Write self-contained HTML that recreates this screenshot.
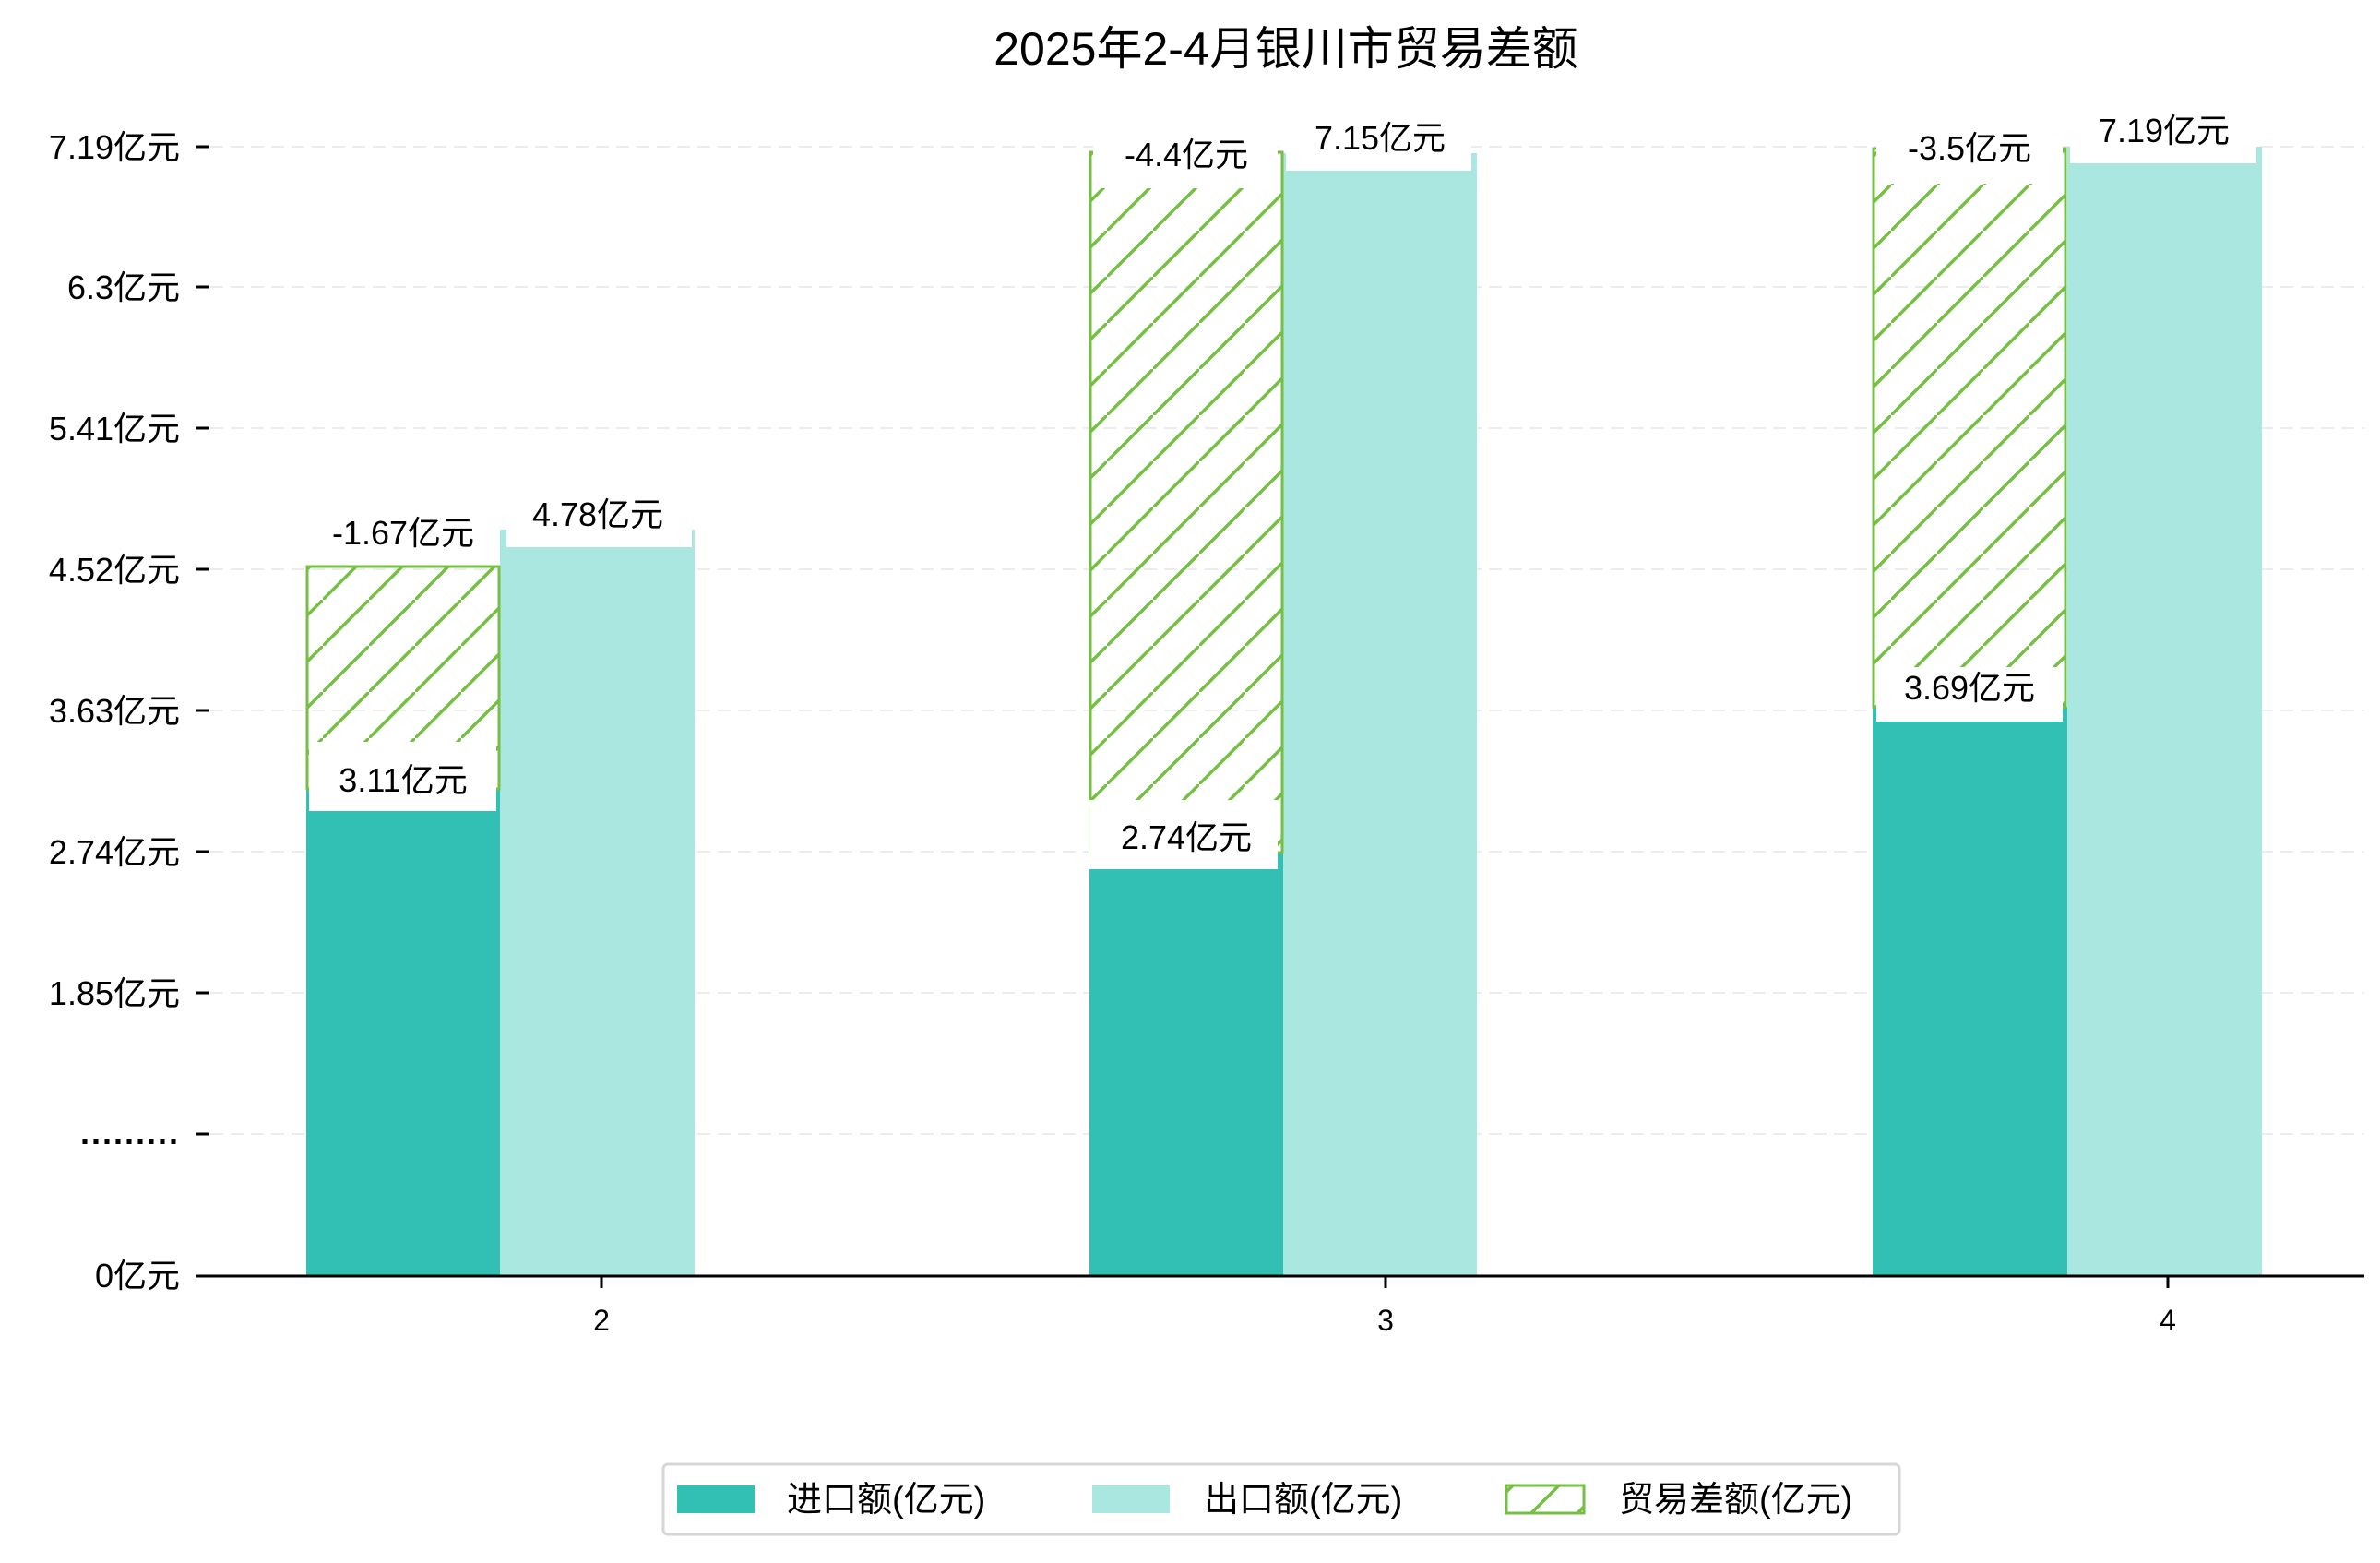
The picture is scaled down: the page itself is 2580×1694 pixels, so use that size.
<!DOCTYPE html>
<html><head><meta charset="utf-8"><style>
html,body{margin:0;padding:0;background:#fff}
svg text{font-family:"Liberation Sans","Noto Sans CJK SC",sans-serif;fill:#000}
</style></head><body>
<svg width="2580" height="1689" viewBox="0 0 2580 1689" xmlns="http://www.w3.org/2000/svg">
<defs>
<pattern id="h" patternUnits="userSpaceOnUse" width="50" height="50">
<line x1="-5" y1="55" x2="55" y2="-5" stroke="#77bf44" stroke-width="3.5"/>
</pattern>
</defs>
<text x="1394" y="70" font-size="50" text-anchor="middle">2025年2-4月银川市贸易差额</text>
<g stroke="#ececec" stroke-width="2" stroke-dasharray="14,8">
<line x1="228" y1="159" x2="2563" y2="159"/>
<line x1="228" y1="311" x2="2563" y2="311"/>
<line x1="228" y1="464" x2="2563" y2="464"/>
<line x1="228" y1="617" x2="2563" y2="617"/>
<line x1="228" y1="770" x2="2563" y2="770"/>
<line x1="228" y1="923" x2="2563" y2="923"/>
<line x1="228" y1="1076" x2="2563" y2="1076"/>
<line x1="228" y1="1229" x2="2563" y2="1229"/>
</g>
<g stroke="#000" stroke-width="3">
<line x1="212" y1="159" x2="227" y2="159"/>
<line x1="212" y1="311" x2="227" y2="311"/>
<line x1="212" y1="464" x2="227" y2="464"/>
<line x1="212" y1="617" x2="227" y2="617"/>
<line x1="212" y1="770" x2="227" y2="770"/>
<line x1="212" y1="923" x2="227" y2="923"/>
<line x1="212" y1="1076" x2="227" y2="1076"/>
<line x1="212" y1="1229" x2="227" y2="1229"/>
</g>
<g font-size="36" text-anchor="end">
<text x="195" y="172">7.19亿元</text>
<text x="195" y="324">6.3亿元</text>
<text x="195" y="477">5.41亿元</text>
<text x="195" y="630">4.52亿元</text>
<text x="195" y="783">3.63亿元</text>
<text x="195" y="936">2.74亿元</text>
<text x="195" y="1089">1.85亿元</text>
<text x="195" y="1240" font-weight="bold" letter-spacing="2">.........</text>
<text x="195" y="1395">0亿元</text>
</g>
<rect x="332" y="855" width="210" height="527" fill="#31c0b3"/>
<rect x="542" y="574" width="211" height="808" fill="#abe7e1"/>
<rect x="1181" y="924" width="210" height="458" fill="#31c0b3"/>
<rect x="1391" y="166" width="210" height="1216" fill="#abe7e1"/>
<rect x="2030" y="766" width="211" height="616" fill="#31c0b3"/>
<rect x="2241" y="159" width="211" height="1223" fill="#abe7e1"/>
<rect x="333" y="614" width="208" height="241" fill="url(#h)" stroke="#77bf44" stroke-width="3"/>
<rect x="1182" y="165" width="208" height="759" fill="url(#h)" stroke="#77bf44" stroke-width="3"/>
<rect x="2031" y="161" width="208" height="605" fill="url(#h)" stroke="#77bf44" stroke-width="3"/>
<g fill="#fff">
<rect x="336" y="556" width="202" height="56"/>
<rect x="335" y="804" width="203" height="75"/>
<rect x="549" y="535" width="201" height="58"/>
<rect x="1185" y="140" width="200" height="64"/>
<rect x="1181" y="867" width="204" height="75"/>
<rect x="1394" y="120" width="201" height="65"/>
<rect x="2034" y="130" width="202" height="69"/>
<rect x="2034" y="723" width="202" height="59"/>
<rect x="2244" y="112" width="202" height="65"/>
</g>
<g font-size="36" text-anchor="middle">
<text x="437" y="590">-1.67亿元</text>
<text x="437" y="858">3.11亿元</text>
<text x="648" y="570">4.78亿元</text>
<text x="1286" y="180">-4.4亿元</text>
<text x="1286" y="920">2.74亿元</text>
<text x="1496" y="162">7.15亿元</text>
<text x="2135" y="173">-3.5亿元</text>
<text x="2135" y="758">3.69亿元</text>
<text x="2346" y="154">7.19亿元</text>
</g>
<line x1="212" y1="1383" x2="2563" y2="1383" stroke="#000" stroke-width="3"/>
<g stroke="#000" stroke-width="3">
<line x1="652" y1="1383" x2="652" y2="1396"/>
<line x1="1502" y1="1383" x2="1502" y2="1396"/>
<line x1="2350" y1="1383" x2="2350" y2="1396"/>
</g>
<g font-size="32" text-anchor="middle">
<text x="652" y="1442">2</text>
<text x="1502" y="1442">3</text>
<text x="2350" y="1442">4</text>
</g>
<rect x="719" y="1587" width="1340" height="76" rx="5" fill="#fff" stroke="#d6d6d6" stroke-width="3"/>
<rect x="734" y="1610" width="84" height="30" fill="#31c0b3"/>
<rect x="1184" y="1610" width="84" height="30" fill="#abe7e1"/>
<rect x="1633" y="1610" width="84" height="30" fill="url(#h)" stroke="#77bf44" stroke-width="3"/>
<g font-size="38">
<text x="853" y="1638">进口额(亿元)</text>
<text x="1305" y="1638">出口额(亿元)</text>
<text x="1755" y="1638">贸易差额(亿元)</text>
</g>
</svg>
</body></html>
